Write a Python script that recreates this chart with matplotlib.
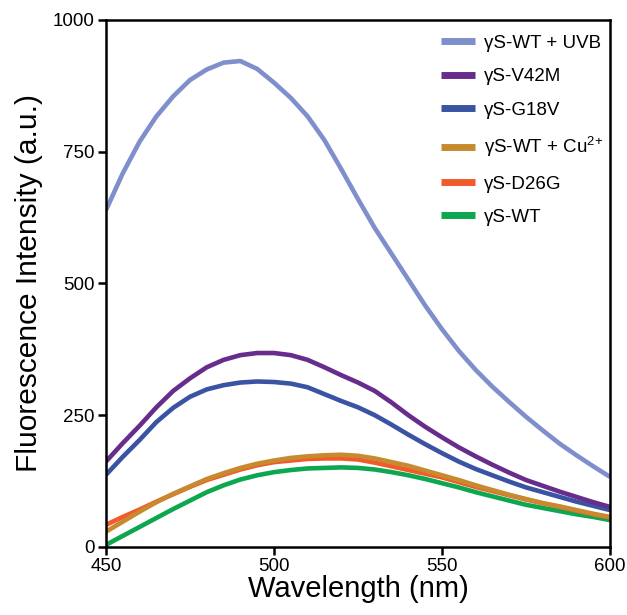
import matplotlib
matplotlib.use('Agg')
import matplotlib.pyplot as plt

plt.rcParams['font.family'] = ['Liberation Sans', 'DejaVu Sans']
plt.rcParams['mathtext.fontset'] = 'custom'
plt.rcParams['mathtext.rm'] = 'Liberation Sans'

# wavelength grid (nm)
wavelength = [450, 455, 460, 465, 470, 475, 480, 485, 490, 495, 500, 505, 510, 515, 520,
              525, 530, 535, 540, 545, 550, 555, 560, 565, 570, 575, 580, 585, 590, 595, 600]

wt_uvb = [639, 709, 769, 817, 855, 886, 906, 919, 922, 907, 881, 852, 817, 772, 717,
          660, 605, 556, 507, 458, 413, 372, 336, 304, 275, 247, 221, 196, 174, 153, 133]
v42m = [162, 197, 230, 265, 296, 320, 341, 355, 364, 368, 368, 364, 355, 341, 326,
        312, 296, 274, 250, 228, 208, 189, 172, 156, 141, 127, 116, 105, 95, 85, 76]
g18v = [137, 171, 203, 237, 264, 285, 299, 307, 312, 314, 313, 310, 303, 290, 277,
        265, 250, 232, 213, 195, 178, 162, 148, 136, 124, 113, 104, 95, 86, 78, 70]
wt_cu = [29, 48, 67, 85, 101, 115, 129, 140, 150, 158, 164, 169, 172, 174, 175,
         173, 168, 161, 154, 145, 136, 127, 117, 108, 99, 91, 83, 77, 70, 63, 57]
d26g = [42, 57, 71, 86, 100, 114, 127, 137, 147, 155, 161, 164, 167, 168, 168,
        166, 160, 153, 146, 139, 132, 123, 114, 106, 98, 90, 83, 76, 69, 62, 56]
wt = [4, 21, 38, 55, 72, 88, 104, 117, 128, 136, 142, 146, 149, 150, 151,
      150, 147, 142, 136, 129, 121, 113, 104, 96, 88, 80, 74, 68, 62, 57, 51]

series = [
    ('γS-WT + UVB', wt_uvb, '#7f8fcb'),
    ('γS-V42M', v42m, '#682d8c'),
    ('γS-G18V', g18v, '#3a53a2'),
    ('γS-WT + Cu$^{2{+}}$', wt_cu, '#c88a2f'),
    ('γS-D26G', d26g, '#f15a2b'),
    ('γS-WT', wt, '#0da74f'),
]

fig = plt.figure(figsize=(6.27, 6.15), dpi=100)
ax = fig.add_axes([0.169, 0.1106, 0.804, 0.857])

# draw bottom curves first so the legend order stays top-down
for label, vals, color in reversed(series):
    ax.plot(wavelength, vals, color=color, lw=3.3, label=label,
            solid_capstyle='butt', solid_joinstyle='round')

ax.set_xlim(450, 600)
ax.set_ylim(0, 1000)
ax.set_xticks([450, 500, 550, 600])
ax.set_yticks([0, 250, 500, 750, 1000])
ax.tick_params(direction='out', length=6, width=1.8, labelsize=13.5, pad=2)
for s in ax.spines.values():
    s.set_linewidth(1.8)

ax.set_xlabel('Wavelength (nm)', fontsize=21, labelpad=0)
ax.set_ylabel('Fluorescence Intensity (a.u.)', fontsize=21.5, labelpad=7)

handles, labels = ax.get_legend_handles_labels()
leg = ax.legend(handles[::-1], labels[::-1], loc='upper right', frameon=False,
                bbox_to_anchor=(1.016, 1.0),
                fontsize=13.5, handlelength=1.8, labelspacing=0.86,
                handletextpad=0.5, borderaxespad=0.5, borderpad=0.3)
for h in leg.get_lines():
    h.set_linewidth(5)

fig.savefig('out.png', dpi=100)
